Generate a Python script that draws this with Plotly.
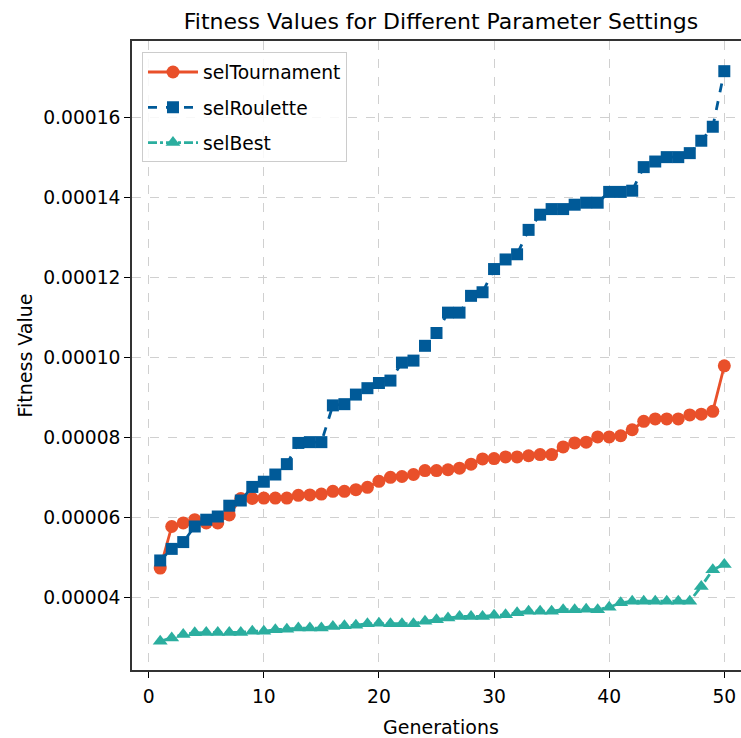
import plotly.graph_objects as go

generations = list(range(1, 51))

sel_tournament = [
    4.74e-05, 5.78e-05, 5.87e-05, 5.95e-05, 5.87e-05, 5.87e-05, 6.07e-05, 6.48e-05, 6.48e-05, 6.49e-05,
    6.49e-05, 6.49e-05, 6.56e-05, 6.57e-05, 6.59e-05, 6.66e-05, 6.66e-05, 6.70e-05, 6.76e-05, 6.91e-05,
    7.01e-05, 7.03e-05, 7.08e-05, 7.18e-05, 7.18e-05, 7.20e-05, 7.24e-05, 7.34e-05, 7.47e-05, 7.48e-05,
    7.52e-05, 7.52e-05, 7.55e-05, 7.58e-05, 7.58e-05, 7.77e-05, 7.87e-05, 7.89e-05, 8.02e-05, 8.02e-05,
    8.05e-05, 8.20e-05, 8.41e-05, 8.47e-05, 8.47e-05, 8.47e-05, 8.57e-05, 8.59e-05, 8.66e-05, 9.80e-05,
]

sel_roulette = [
    4.93e-05, 5.22e-05, 5.39e-05, 5.78e-05, 5.95e-05, 6.03e-05, 6.30e-05, 6.43e-05, 6.77e-05, 6.90e-05,
    7.08e-05, 7.34e-05, 7.87e-05, 7.89e-05, 7.89e-05, 8.81e-05, 8.84e-05, 9.08e-05, 9.24e-05, 9.37e-05,
    9.43e-05, 9.88e-05, 9.93e-05, 1.030e-04, 1.062e-04, 1.113e-04, 1.113e-04, 1.155e-04, 1.164e-04, 1.222e-04,
    1.246e-04, 1.259e-04, 1.320e-04, 1.358e-04, 1.372e-04, 1.372e-04, 1.383e-04, 1.388e-04, 1.388e-04, 1.415e-04,
    1.415e-04, 1.418e-04, 1.477e-04, 1.491e-04, 1.502e-04, 1.502e-04, 1.512e-04, 1.543e-04, 1.578e-04, 1.717e-04,
]

sel_best = [
    2.91e-05, 2.99e-05, 3.08e-05, 3.12e-05, 3.13e-05, 3.13e-05, 3.13e-05, 3.13e-05, 3.16e-05, 3.16e-05,
    3.20e-05, 3.21e-05, 3.24e-05, 3.24e-05, 3.24e-05, 3.28e-05, 3.30e-05, 3.31e-05, 3.35e-05, 3.36e-05,
    3.35e-05, 3.35e-05, 3.35e-05, 3.41e-05, 3.45e-05, 3.49e-05, 3.53e-05, 3.53e-05, 3.53e-05, 3.56e-05,
    3.57e-05, 3.62e-05, 3.66e-05, 3.66e-05, 3.66e-05, 3.70e-05, 3.70e-05, 3.71e-05, 3.70e-05, 3.76e-05,
    3.87e-05, 3.91e-05, 3.91e-05, 3.91e-05, 3.91e-05, 3.91e-05, 3.91e-05, 4.28e-05, 4.70e-05, 4.83e-05,
]

y_ticks = [0.00004, 0.00006, 0.00008, 0.00010, 0.00012, 0.00014, 0.00016]
y_tick_text = ["0.00004", "0.00006", "0.00008", "0.00010", "0.00012", "0.00014", "0.00016"]
x_ticks = [0, 10, 20, 30, 40, 50]

FONT = "DejaVu Sans"
ORANGE = "#E9502A"
BLUE = "#005A98"
TEAL = "#2BAE9F"

fig = go.Figure()
fig.add_trace(go.Scatter(
    x=generations, y=sel_tournament, name="selTournament", mode="lines+markers",
    legendgroup="t",
    line=dict(color=ORANGE, width=2.8, dash="solid"),
    marker=dict(symbol="circle", size=13, color=ORANGE),
))
fig.add_trace(go.Scatter(
    x=generations, y=sel_roulette, name="selRoulette", mode="lines+markers",
    legendgroup="r",
    line=dict(color=BLUE, width=2.8, dash="dash"),
    marker=dict(symbol="square", size=12, color=BLUE),
))
fig.add_trace(go.Scatter(
    x=generations, y=sel_best, name="selBest", mode="lines+markers",
    legendgroup="b",
    line=dict(color=TEAL, width=2.8, dash="dashdot"),
    marker=dict(symbol="triangle-up", size=13, color=TEAL),
))

fig.update_layout(
    width=741, height=738,
    margin=dict(l=132, r=0, t=41, b=68, autoexpand=False),
    paper_bgcolor="white", plot_bgcolor="white",
    font=dict(family=FONT, size=18.7, color="black"),
    title=dict(text="Fitness Values for Different Parameter Settings",
               x=441 / 741, xanchor="center", y=1 - 21 / 738, yanchor="middle",
               font=dict(family=FONT, size=22, color="black")),
    showlegend=True,
    legend=dict(x=0.0164, y=0.982, xanchor="left", yanchor="top",
                bgcolor="rgba(255,255,255,0.85)", bordercolor="#CCCCCC", borderwidth=1,
                itemwidth=50, tracegroupgap=8,
                font=dict(family=FONT, size=18.7, color="black")),
    annotations=[dict(
        text="Generations", xref="paper", yref="paper",
        x=(441 - 132) / 609, y=(670 - 727) / 629.3, xanchor="center", yanchor="middle",
        showarrow=False, font=dict(family=FONT, size=19, color="black"),
    )],
)

fig.update_xaxes(
    range=[-1.45, 51.45], tickvals=x_ticks, ticks="outside", ticklen=6, tickwidth=1.2,
    tickcolor="black", showline=True, linecolor="#333333", linewidth=1.5, mirror=True,
    showgrid=True, gridcolor="#D0D0D0", griddash="dash", gridwidth=1, zeroline=False,
    tickfont=dict(family=FONT, size=18.7), ticklabelstandoff=3, automargin=False,
)
fig.update_yaxes(
    range=[0.0000219, 0.00017925], tickvals=y_ticks, ticktext=y_tick_text, ticks="outside",
    ticklen=6, tickwidth=1.2, tickcolor="black", showline=True, linecolor="#333333", linewidth=1.5,
    mirror=False, showgrid=True, gridcolor="#D0D0D0", griddash="dash", gridwidth=1, zeroline=False,
    tickfont=dict(family=FONT, size=18.7), automargin=False,
    title=dict(text="Fitness Value", font=dict(family=FONT, size=19), standoff=6),
)

fig.write_html("out.html")
